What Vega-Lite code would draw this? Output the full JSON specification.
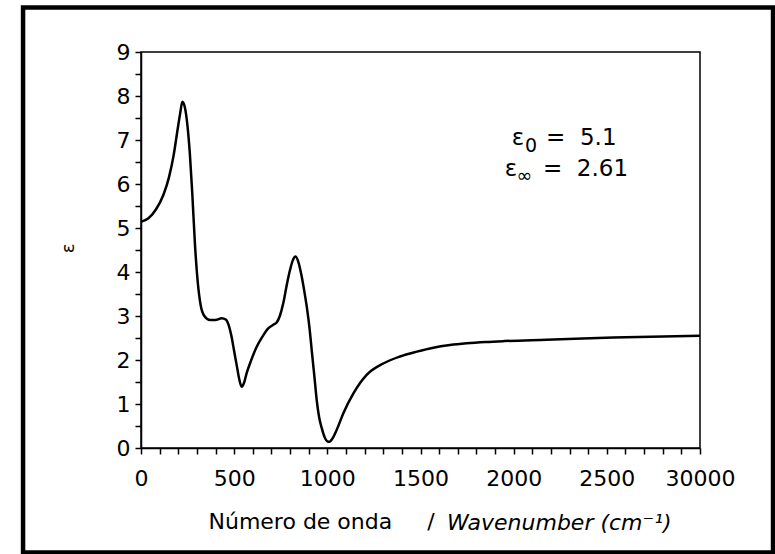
{
  "$schema": "https://vega.github.io/schema/vega-lite/v6.json",
  "width": 559,
  "height": 396,
  "autosize": {"type": "none"},
  "padding": {"left": 141, "top": 52, "right": 75, "bottom": 106},
  "background": "white",
  "title": {
    "text": "Wavenumber (cm⁻¹)",
    "orient": "bottom",
    "anchor": "start",
    "frame": "group",
    "dx": 306,
    "dy": -46,
    "font": "DejaVu Sans",
    "fontSize": 22,
    "fontStyle": "italic",
    "fontWeight": "normal",
    "color": "black"
  },
  "config": {
    "view": {"stroke": "black", "strokeWidth": 1.5},
    "axis": {
      "grid": false,
      "domainColor": "black",
      "domainWidth": 1.5,
      "tickColor": "black",
      "tickWidth": 1.5,
      "labelFont": "DejaVu Sans",
      "labelFontSize": 22,
      "labelColor": "black",
      "titleFont": "DejaVu Sans",
      "titleColor": "black",
      "titleFontWeight": "normal"
    }
  },
  "encoding": {
    "x": {
      "field": "wn",
      "type": "quantitative",
      "scale": {"domain": [0, 3000], "nice": false, "zero": false},
      "axis": {
        "values": [0,100,200,300,400,500,600,700,800,900,1000,1100,1200,1300,1400,1500,1600,1700,1800,1900,2000,2100,2200,2300,2400,2500,2600,2700,2800,2900,3000],
        "labelExpr": "datum.value === 3000 ? '30000' : (datum.value % 500 === 0 ? format(datum.value, 'd') : '')",
        "tickSize": 6,
        "labelPadding": 14,
        "labelFlush": false,
        "labelOverlap": false,
        "title": "Número de onda\u00a0\u00a0\u00a0\u00a0 /",
        "titleFontSize": 22,
        "titleAlign": "left",
        "titleAnchor": "start",
        "titleBaseline": "alphabetic",
        "titleX": 67,
        "titleY": 80
      }
    },
    "y": {
      "field": "eps",
      "type": "quantitative",
      "scale": {"domain": [0, 9], "nice": false, "zero": false},
      "axis": {
        "values": [0,0.5,1,1.5,2,2.5,3,3.5,4,4.5,5,5.5,6,6.5,7,7.5,8,8.5,9],
        "labelExpr": "datum.value % 1 === 0 ? format(datum.value, 'd') : ''",
        "tickSize": 6,
        "labelPadding": 5,
        "labelFlush": false,
        "labelOverlap": false,
        "title": "ε",
        "titleFontSize": 18,
        "titleAngle": -90,
        "titleAlign": "center",
        "titleBaseline": "middle",
        "titleX": -73,
        "titleY": 196
      }
    }
  },
  "layer": [
    {
      "data": {
        "values": [
          {"wn": 0, "eps": 5.14}, {"wn": 40, "eps": 5.22}, {"wn": 80, "eps": 5.42},
          {"wn": 120, "eps": 5.75}, {"wn": 150, "eps": 6.15}, {"wn": 175, "eps": 6.65},
          {"wn": 195, "eps": 7.2}, {"wn": 210, "eps": 7.6}, {"wn": 222, "eps": 7.87},
          {"wn": 235, "eps": 7.75}, {"wn": 250, "eps": 7.3}, {"wn": 262, "eps": 6.7},
          {"wn": 275, "eps": 5.8}, {"wn": 290, "eps": 4.6}, {"wn": 305, "eps": 3.75},
          {"wn": 320, "eps": 3.25}, {"wn": 340, "eps": 3.0}, {"wn": 370, "eps": 2.91},
          {"wn": 400, "eps": 2.91}, {"wn": 433, "eps": 2.95}, {"wn": 455, "eps": 2.92},
          {"wn": 470, "eps": 2.8}, {"wn": 485, "eps": 2.55}, {"wn": 500, "eps": 2.2},
          {"wn": 515, "eps": 1.85}, {"wn": 528, "eps": 1.55}, {"wn": 540, "eps": 1.39},
          {"wn": 552, "eps": 1.47}, {"wn": 567, "eps": 1.7}, {"wn": 590, "eps": 1.98},
          {"wn": 621, "eps": 2.3}, {"wn": 650, "eps": 2.52}, {"wn": 683, "eps": 2.72},
          {"wn": 710, "eps": 2.8}, {"wn": 728, "eps": 2.85}, {"wn": 745, "eps": 3.0},
          {"wn": 764, "eps": 3.3}, {"wn": 782, "eps": 3.7}, {"wn": 800, "eps": 4.05},
          {"wn": 815, "eps": 4.27}, {"wn": 830, "eps": 4.35}, {"wn": 845, "eps": 4.22},
          {"wn": 859, "eps": 3.97}, {"wn": 875, "eps": 3.6}, {"wn": 890, "eps": 3.2},
          {"wn": 905, "eps": 2.7}, {"wn": 916, "eps": 2.23}, {"wn": 930, "eps": 1.65},
          {"wn": 943, "eps": 1.09}, {"wn": 956, "eps": 0.7}, {"wn": 970, "eps": 0.45},
          {"wn": 988, "eps": 0.22}, {"wn": 1000, "eps": 0.15}, {"wn": 1011, "eps": 0.14},
          {"wn": 1025, "eps": 0.2}, {"wn": 1050, "eps": 0.41}, {"wn": 1086, "eps": 0.79},
          {"wn": 1140, "eps": 1.24}, {"wn": 1211, "eps": 1.66}, {"wn": 1300, "eps": 1.92},
          {"wn": 1390, "eps": 2.08}, {"wn": 1480, "eps": 2.19}, {"wn": 1569, "eps": 2.28},
          {"wn": 1658, "eps": 2.34}, {"wn": 1748, "eps": 2.38}, {"wn": 1850, "eps": 2.41},
          {"wn": 1950, "eps": 2.43}, {"wn": 2177, "eps": 2.46}, {"wn": 2535, "eps": 2.51},
          {"wn": 3000, "eps": 2.55}
        ]
      },
      "mark": {"type": "line", "interpolate": "monotone", "color": "black", "strokeWidth": 2.5}
    },
    {
      "data": {
        "values": [
          {"label": "ε", "wn": 2023, "eps": 7.05},
          {"label": "ε", "wn": 1986, "eps": 6.34}
        ]
      },
      "mark": {"type": "text", "font": "DejaVu Sans", "fontSize": 23, "color": "black", "align": "center", "baseline": "middle"},
      "encoding": {"text": {"field": "label"}}
    },
    {
      "data": {
        "values": [
          {"label": "0", "wn": 2093, "eps": 6.86},
          {"label": "∞", "wn": 2058, "eps": 6.18}
        ]
      },
      "mark": {"type": "text", "font": "DejaVu Sans", "fontSize": 19, "color": "black", "align": "center", "baseline": "middle"},
      "encoding": {"text": {"field": "label"}}
    },
    {
      "data": {
        "values": [
          {"label": "=\u00a0\u00a05.1", "wn": 2174, "eps": 7.05},
          {"label": "=\u00a0\u00a02.61", "wn": 2157, "eps": 6.34}
        ]
      },
      "mark": {"type": "text", "font": "DejaVu Sans", "fontSize": 23, "color": "black", "align": "left", "baseline": "middle"},
      "encoding": {"text": {"field": "label"}}
    },
    {
      "data": {"values": [{"wn": -633, "wn2": 3392, "eps": -2.375, "eps2": 10.01}]},
      "mark": {"type": "rect", "fill": null, "stroke": "black", "strokeWidth": 4.5, "clip": false},
      "encoding": {
        "x2": {"field": "wn2"},
        "y2": {"field": "eps2"}
      }
    }
  ]
}
